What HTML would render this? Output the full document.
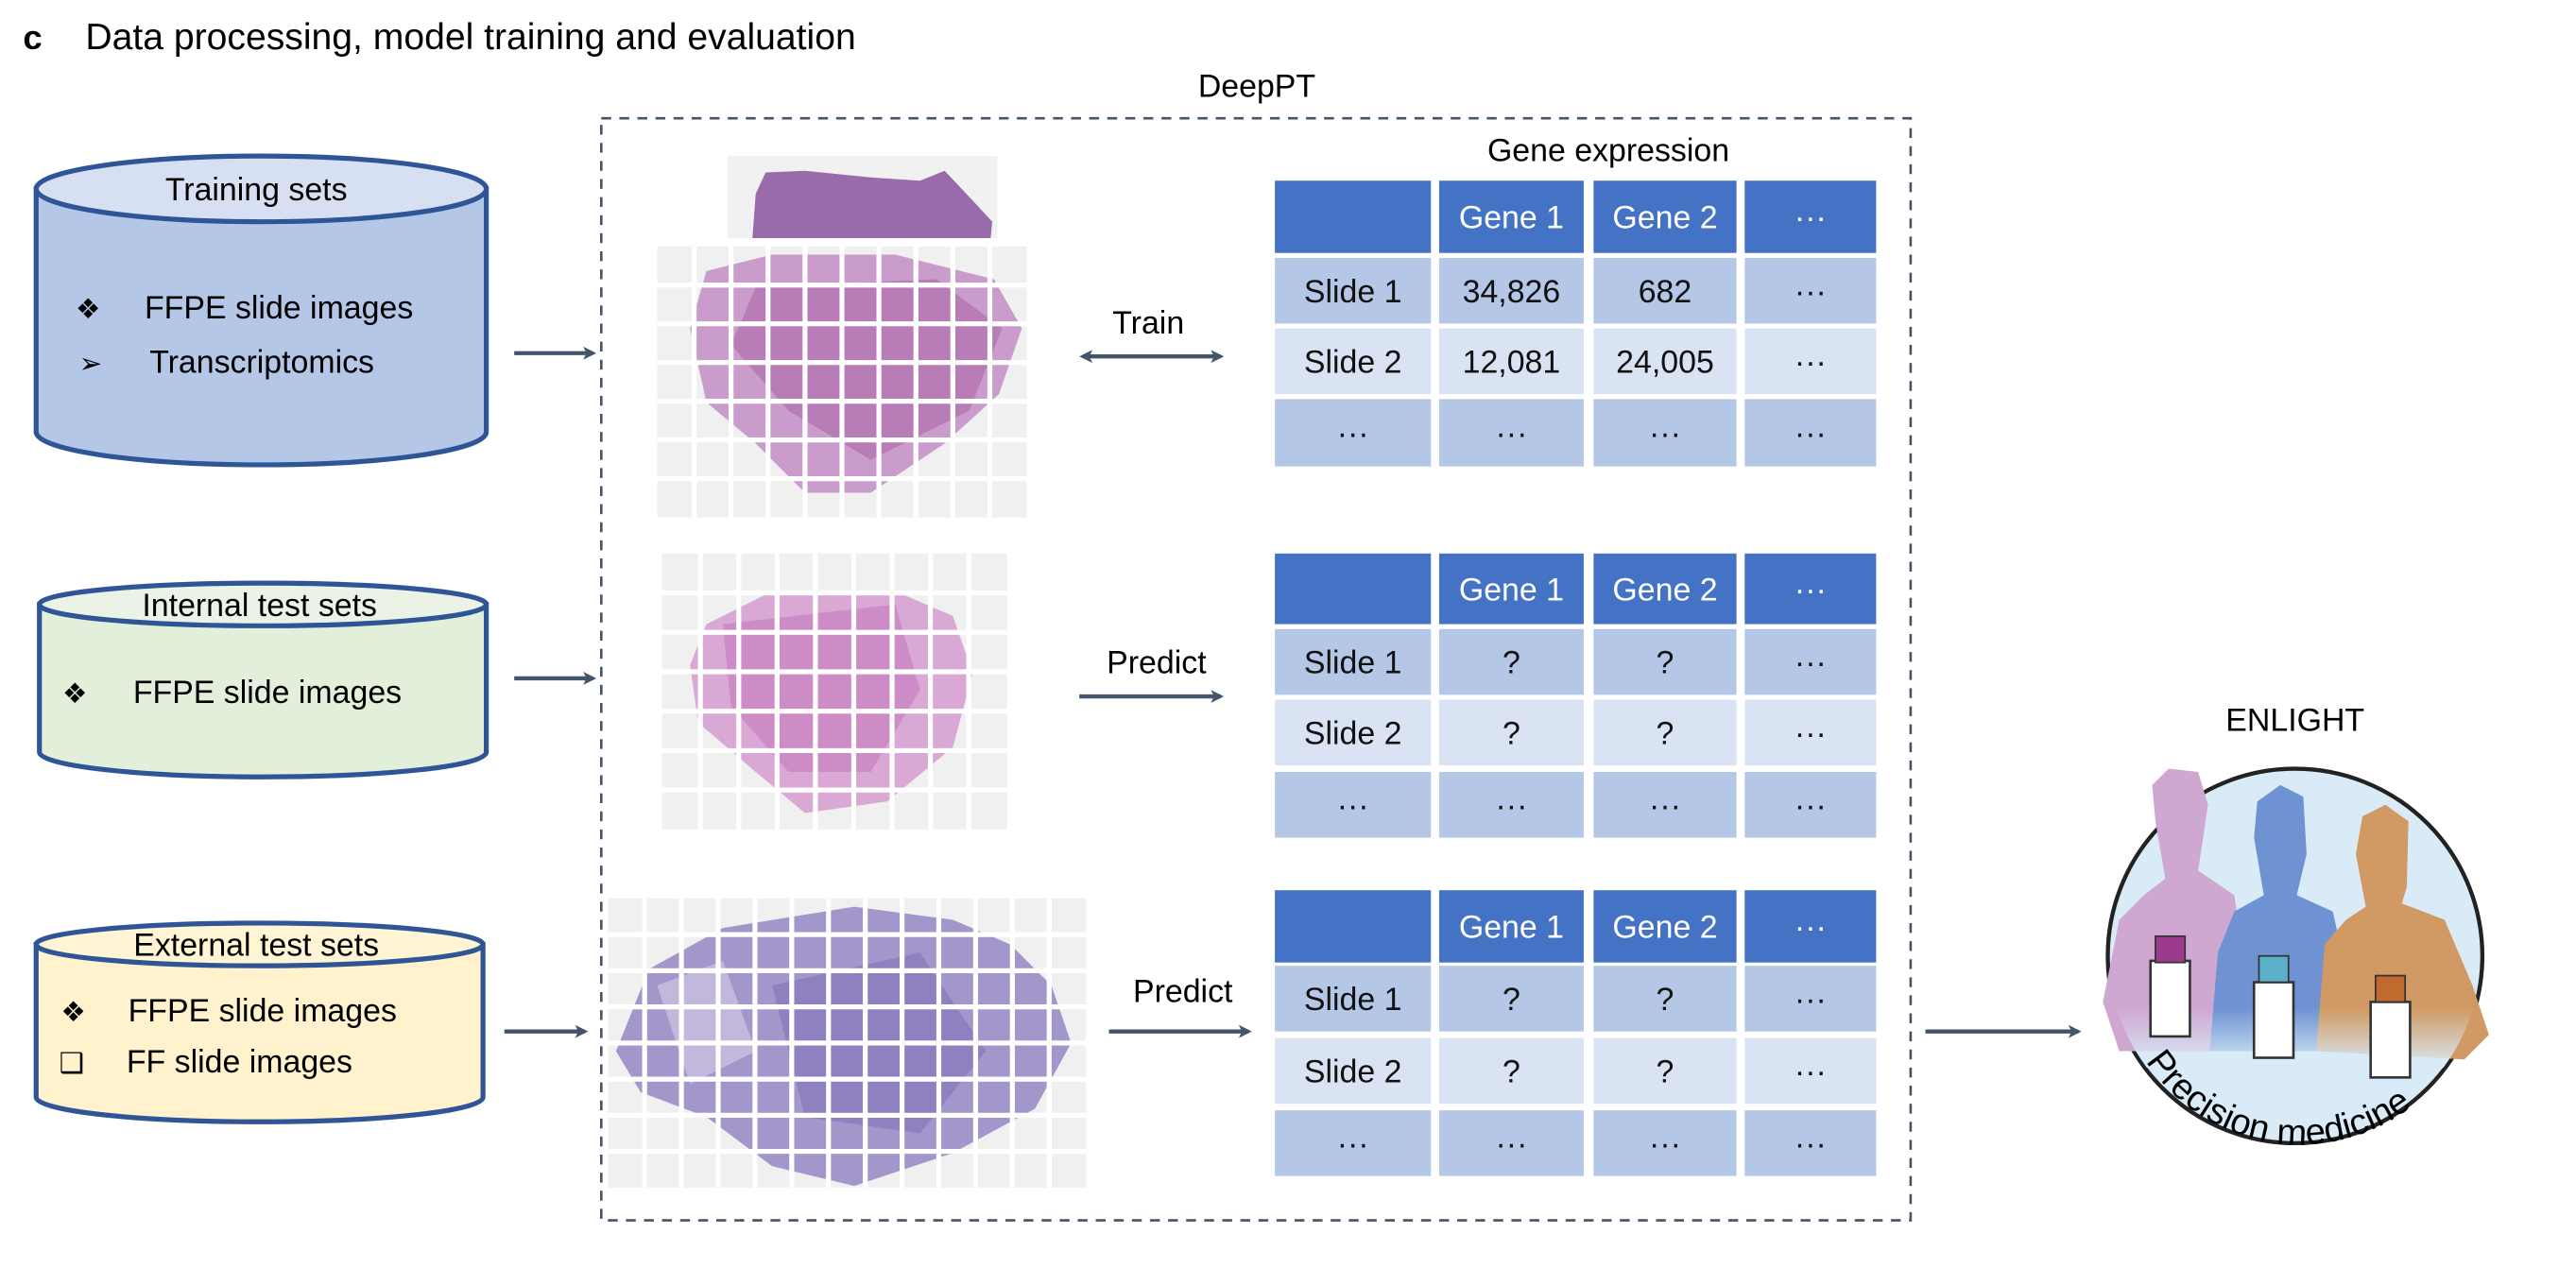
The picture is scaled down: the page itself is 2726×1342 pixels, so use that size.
<!DOCTYPE html>
<html><head><meta charset="utf-8">
<style>
html,body{margin:0;padding:0;background:#fff;}
svg{display:block;font-family:"Liberation Sans",sans-serif;}
</style></head>
<body>
<svg id="fig" width="2726" height="1342" viewBox="0 0 1568 772" preserveAspectRatio="none" xmlns="http://www.w3.org/2000/svg">
<defs>
<marker id="ah" markerWidth="8" markerHeight="8" refX="6" refY="4" orient="auto-start-reverse" markerUnits="userSpaceOnUse"><path d="M0,0 L8,4 L0,8 L2,4 Z" fill="#44546a"/></marker>
<linearGradient id="fade" x1="0" y1="0" x2="0" y2="1"><stop offset="0.6" stop-color="#d8ebf6" stop-opacity="0"/><stop offset="1" stop-color="#d8ebf6" stop-opacity="1"/></linearGradient>
<clipPath id="circ"><circle cx="1397" cy="582" r="113"/></clipPath>
</defs>
<text x="14" y="30" font-size="21" font-weight="bold">c</text>
<text x="52" y="30" font-size="22.5">Data processing, model training and evaluation</text>

<g font-size="19.5">
<path d="M22,115 L22,263 A137,20 0 0 0 296,263 L296,115 Z" fill="#b4c7e7" stroke="#2f5597" stroke-width="3"/>
<ellipse cx="159" cy="115" rx="137" ry="20" fill="#d6e0f2" stroke="#2f5597" stroke-width="3"/>
<text x="156" y="122" text-anchor="middle">Training sets</text>
<text x="46" y="194" font-size="17">❖</text><text x="88" y="194">FFPE slide images</text>
<text x="48" y="227" font-size="17">➢</text><text x="91" y="227">Transcriptomics</text>
</g>
<g font-size="19.5">
<path d="M24,368 L24,458 A136,15 0 0 0 296,458 L296,368 Z" fill="#e2efda" stroke="#2f5597" stroke-width="3"/>
<ellipse cx="160" cy="368" rx="136" ry="13" fill="#ebf3e6" stroke="#2f5597" stroke-width="3"/>
<text x="158" y="375" text-anchor="middle">Internal test sets</text>
<text x="38" y="428" font-size="17">❖</text><text x="81" y="428">FFPE slide images</text>
</g>
<g font-size="19.5">
<path d="M22,575 L22,668 A136,15 0 0 0 294,668 L294,575 Z" fill="#fff2cc" stroke="#2f5597" stroke-width="3"/>
<ellipse cx="158" cy="575" rx="136" ry="13" fill="#fff4d4" stroke="#2f5597" stroke-width="3"/>
<text x="156" y="582" text-anchor="middle">External test sets</text>
<text x="37" y="622" font-size="17">❖</text><text x="78" y="622">FFPE slide images</text>
<text x="36" y="653" font-size="17">❑</text><text x="77" y="653">FF slide images</text>
</g>

<text x="765" y="59" font-size="19.5" text-anchor="middle">DeepPT</text>
<rect x="366" y="72" width="797" height="671" fill="none" stroke="#44546a" stroke-width="1.5" stroke-dasharray="6,5"/>

<g>
<rect x="443" y="95" width="164" height="50" fill="#f1f1f1"/>
<path d="M458,145 L460,118 L466,105 L490,104 L530,108 L560,110 L575,104 L592,122 L604,135 L603,145 Z" fill="#9a6bab"/>
</g>
<g id="g1">
<rect x="400" y="150" width="225" height="165" fill="#f0f0f0"/>
<path d="M430,165 L470,155 L545,155 L605,170 L622,200 L608,240 L575,270 L530,300 L490,300 L460,270 L430,245 L420,200 Z" fill="#c99ccb"/>
<path d="M460,175 L570,170 L610,200 L590,250 L530,280 L480,250 L445,210 Z" fill="#b070ae" opacity="0.7"/>
</g>
<g id="g2">
<rect x="403" y="337" width="210" height="168" fill="#f0f0f0"/>
<path d="M430,380 L470,360 L545,360 L580,375 L592,410 L580,455 L540,488 L490,495 L460,470 L425,440 L420,405 Z" fill="#d9a8d4"/>
<path d="M440,380 L545,368 L560,420 L530,470 L480,470 L445,430 Z" fill="#c47abd" opacity="0.6"/>
</g>
<g id="g3">
<rect x="370" y="547" width="291" height="176" fill="#f0f0f0"/>
<path d="M375,640 L395,590 L440,565 L520,552 L580,560 L615,575 L640,600 L652,635 L630,675 L580,702 L520,722 L470,710 L430,680 L390,665 Z" fill="#a296cb"/>
<path d="M470,600 L560,580 L600,640 L560,690 L490,680 Z" fill="#8272b8" opacity="0.6"/>
<path d="M400,600 L440,585 L460,640 L420,660 Z" fill="#cbc0e0" opacity="0.8"/>
</g>

<g stroke="#44546a" stroke-width="2.5" fill="none">
<line x1="313" y1="215" x2="361" y2="215" marker-end="url(#ah)"/>
<line x1="313" y1="413" x2="361" y2="413" marker-end="url(#ah)"/>
<line x1="307" y1="628" x2="356" y2="628" marker-end="url(#ah)"/>
<line x1="659" y1="217" x2="743" y2="217" marker-start="url(#ah)" marker-end="url(#ah)"/>
<line x1="657" y1="424" x2="743" y2="424" marker-end="url(#ah)"/>
<line x1="675" y1="628" x2="760" y2="628" marker-end="url(#ah)"/>
<line x1="1172" y1="628" x2="1265" y2="628" marker-end="url(#ah)"/>
</g>
<text x="699" y="203" font-size="19.5" text-anchor="middle">Train</text>
<text x="704" y="410" font-size="19.5" text-anchor="middle">Predict</text>
<text x="720" y="610" font-size="19.5" text-anchor="middle">Predict</text>
<text x="979" y="98" font-size="19.5" text-anchor="middle">Gene expression</text>

<g id="tables"></g>

<text x="1397" y="445" font-size="19.5" text-anchor="middle">ENLIGHT</text>
<g>
<circle cx="1397" cy="582" r="114" fill="#d8ebf6" stroke="#222" stroke-width="2.5"/>
<path d="M1280,610 L1290,560 L1305,545 L1318,535 L1312,500 L1310,478 L1320,468 L1338,470 L1344,490 L1338,530 L1360,545 L1368,600 L1355,640 L1290,640 Z" fill="#cfa8d2"/>
<path d="M1345,640 L1350,580 L1360,555 L1378,545 L1372,510 L1374,488 L1388,478 L1402,485 L1404,520 L1398,545 L1420,555 L1430,600 L1420,640 Z" fill="#6f93d2"/>
<path d="M1410,640 L1415,575 L1428,560 L1440,552 L1434,520 L1438,497 L1452,490 L1466,500 L1465,540 L1462,550 L1488,560 L1505,600 L1515,630 L1500,645 Z" fill="#d19a64"/>
<rect x="1270" y="560" width="260" height="90" fill="url(#fade)" clip-path="url(#circ)"/>
<rect x="1309" y="585" width="24" height="46" fill="#fff" stroke="#333" stroke-width="1.5"/><rect x="1312" y="570" width="18" height="16" fill="#9c3b8c" stroke="#333"/>
<rect x="1372" y="598" width="24" height="46" fill="#fff" stroke="#333" stroke-width="1.5"/><rect x="1375" y="582" width="18" height="16" fill="#5bb0c9" stroke="#333"/>
<rect x="1443" y="610" width="24" height="46" fill="#fff" stroke="#333" stroke-width="1.5"/><rect x="1446" y="594" width="18" height="16" fill="#c06a30" stroke="#333"/>
<path id="arcp" d="M1303,641 A112,112 0 0 0 1508,614" fill="none"/>
<text font-size="22"><textPath href="#arcp" startOffset="6">Precision medicine</textPath></text>
</g>
</svg>
<script>
const colLabels = ["", "Gene 1", "Gene 2", "···"];
const rowLabels = ["Slide 1", "Slide 2", "···"];
const trainValues = [["34,826", "682", "···"], ["12,081", "24,005", "···"], ["···", "···", "···"]];
const predValues = [["?", "?", "···"], ["?", "?", "···"], ["···", "···", "···"]];
const NS = "http://www.w3.org/2000/svg";
const colX = [776, 876, 970, 1062], colW = [95, 88, 87, 80];
const tables = [
  {top:110, rows:[157,200,243], h:[44,40,40,41], vals:trainValues, name:"training-expression-table"},
  {top:337, rows:[383,426,470], h:[43,40,40,40], vals:predValues, name:"internal-prediction-table"},
  {top:542, rows:[588,632,676], h:[44,40,40,40], vals:predValues, name:"external-prediction-table"}
];
const root = document.getElementById("tables");
function mk(tag, attrs, parent){const e=document.createElementNS(NS,tag);for(const k in attrs)e.setAttribute(k,attrs[k]);parent.appendChild(e);return e;}
tables.forEach(t=>{
  const g = mk("g",{},root);
  
  
  colX.forEach((x,c)=>{
    const r = mk("rect",{x:x,y:t.top,width:colW[c],height:t.h[0],fill:"#4472c4"},g);
    
    
    if(colLabels[c]){const tx=mk("text",{x:x+colW[c]/2,y:t.top+t.h[0]/2+7,"font-size":19.5,fill:"#fff","text-anchor":"middle"},g);tx.textContent=colLabels[c];
      
      }
    t.rows.forEach((y,ri)=>{
      const cell = mk("rect",{x:x,y:y,width:colW[c],height:t.h[ri+1],fill: ri===1?"#dae3f3":"#b4c7e7"},g);
      
      
      const txt = c===0 ? rowLabels[ri] : t.vals[ri][c-1];
      const tx = mk("text",{x:x+colW[c]/2,y:y+t.h[ri+1]/2+7,"font-size":19.5,fill:"#111","text-anchor":"middle"},g);
      tx.textContent = txt;
      
      
    });
  });
});
const grids = [
  {id:"g1", x:400, y:150, w:225, h:165, nx:10, ny:7},
  {id:"g2", x:403, y:337, w:210, h:168, nx:9, ny:7},
  {id:"g3", x:370, y:547, w:291, h:176, nx:13, ny:8}
];
grids.forEach(gd=>{
  const g = document.getElementById(gd.id);
  for(let i=1;i<gd.nx;i++){const xx=gd.x+gd.w*i/gd.nx;
    const l=mk("line",{x1:xx,y1:gd.y,x2:xx,y2:gd.y+gd.h,stroke:"#fff","stroke-width":3},g);
    
    }
  for(let j=1;j<gd.ny;j++){const yy=gd.y+gd.h*j/gd.ny;
    const l=mk("line",{x1:gd.x,y1:yy,x2:gd.x+gd.w,y2:yy,stroke:"#fff","stroke-width":3},g);
    
    }
});
</script>
</body></html>
